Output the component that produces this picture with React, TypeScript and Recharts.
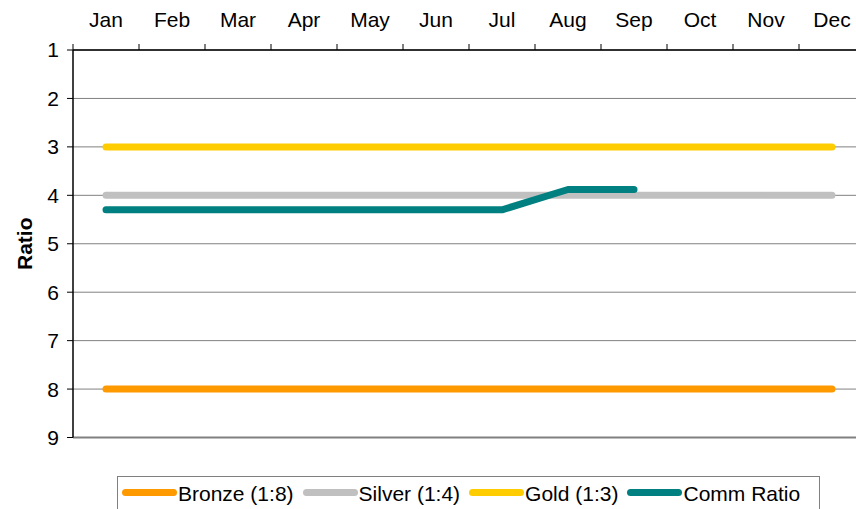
import React from 'react';
import { LineChart, Line, XAxis, YAxis, CartesianGrid, ReferenceLine } from 'recharts';

const months = ['Jan', 'Feb', 'Mar', 'Apr', 'May', 'Jun', 'Jul', 'Aug', 'Sep', 'Oct', 'Nov', 'Dec'];
const bronze = [8, 8, 8, 8, 8, 8, 8, 8, 8, 8, 8, 8];
const silver = [4, 4, 4, 4, 4, 4, 4, 4, 4, 4, 4, 4];
const gold = [3, 3, 3, 3, 3, 3, 3, 3, 3, 3, 3, 3];
const commRatio: (number | null)[] = [4.3, 4.3, 4.3, 4.3, 4.3, 4.3, 4.3, 3.88, 3.88, null, null, null];
const yTicks = [1, 2, 3, 4, 5, 6, 7, 8, 9];

const series = [
  { key: 'bronze', name: 'Bronze (1:8)', color: '#FF9900' },
  { key: 'silver', name: 'Silver (1:4)', color: '#C0C0C0' },
  { key: 'gold', name: 'Gold (1:3)', color: '#FFCC00' },
  { key: 'comm', name: 'Comm Ratio', color: '#008080' },
];

const FONT = '"Liberation Sans", Arial, sans-serif';
const FONT_SIZE = 21;
const PLOT_W = 792;
const HALF_BAND = PLOT_W / months.length / 2;

const data = months.map((m, i) => ({
  month: m,
  bronze: bronze[i],
  silver: silver[i],
  gold: gold[i],
  comm: commRatio[i],
}));

const MonthTick = (props: any) => {
  const { x, payload } = props;
  return (
    <g>
      <text x={x} y={27} textAnchor="middle" fontSize={FONT_SIZE} fontFamily={FONT} fill="#000">
        {payload.value}
      </text>
      <line x1={x - HALF_BAND} x2={x - HALF_BAND} y1={44} y2={50} stroke="#000" strokeWidth={1} />
    </g>
  );
};

const RatioLabel = (props: any) => {
  const { viewBox } = props;
  const x = viewBox.x + 32;
  const y = viewBox.y + viewBox.height / 2;
  return (
    <text
      x={x}
      y={y}
      transform={`rotate(-90, ${x}, ${y})`}
      textAnchor="middle"
      fontSize={FONT_SIZE}
      fontWeight="bold"
      fontFamily={FONT}
      fill="#000"
    >
      Ratio
    </text>
  );
};

const App = () => {
  return (
    <div style={{ position: 'fixed', left: 0, top: 0, width: 856, height: 509, overflow: 'hidden', background: '#fff' }}>
      <LineChart width={880} height={509} data={data} margin={{ top: 20, right: 15, bottom: 71.5, left: 0 }}>
        <CartesianGrid vertical={false} stroke="#808080" strokeWidth={1} />
        <XAxis
          dataKey="month"
          orientation="top"
          height={30}
          interval={0}
          padding={{ left: HALF_BAND, right: HALF_BAND }}
          tickLine={false}
          axisLine={{ stroke: '#000', strokeWidth: 1.5 }}
          tick={<MonthTick />}
        />
        <YAxis
          type="number"
          domain={[1, 9]}
          ticks={yTicks}
          reversed
          interval={0}
          width={73}
          tickSize={6}
          tickMargin={8}
          axisLine={{ stroke: '#000', strokeWidth: 1.5 }}
          tickLine={{ stroke: '#000' }}
          tick={{ fill: '#000', fontSize: FONT_SIZE, fontFamily: FONT }}
          label={<RatioLabel />}
        />
        <ReferenceLine y={9} stroke="#808080" strokeWidth={2} />
        {series.map((s) => (
          <Line
            key={s.key}
            type="linear"
            dataKey={s.key}
            name={s.name}
            stroke={s.color}
            strokeWidth={7}
            strokeLinecap="round"
            strokeLinejoin="round"
            dot={false}
            activeDot={false}
            isAnimationActive={false}
          />
        ))}
      </LineChart>
      <div
        style={{
          position: 'absolute',
          left: 117,
          top: 476,
          width: 703,
          height: 40,
          boxSizing: 'border-box',
          border: '1px solid #808080',
          display: 'flex',
          alignItems: 'center',
          paddingLeft: 4,
          paddingBottom: 4,
          whiteSpace: 'nowrap',
          overflow: 'hidden',
          fontFamily: FONT,
          fontSize: FONT_SIZE,
          color: '#000',
        }}
      >
        {series.map((s) => (
          <div key={s.key} style={{ display: 'flex', alignItems: 'center', marginRight: 9 }}>
            <span
              style={{
                display: 'inline-block',
                width: 55,
                height: 7,
                borderRadius: 4,
                background: s.color,
                position: 'relative',
                top: -2,
              }}
            />
            <span style={{ marginLeft: 1, lineHeight: '22px' }}>{s.name}</span>
          </div>
        ))}
      </div>
    </div>
  );
};

export default App;
